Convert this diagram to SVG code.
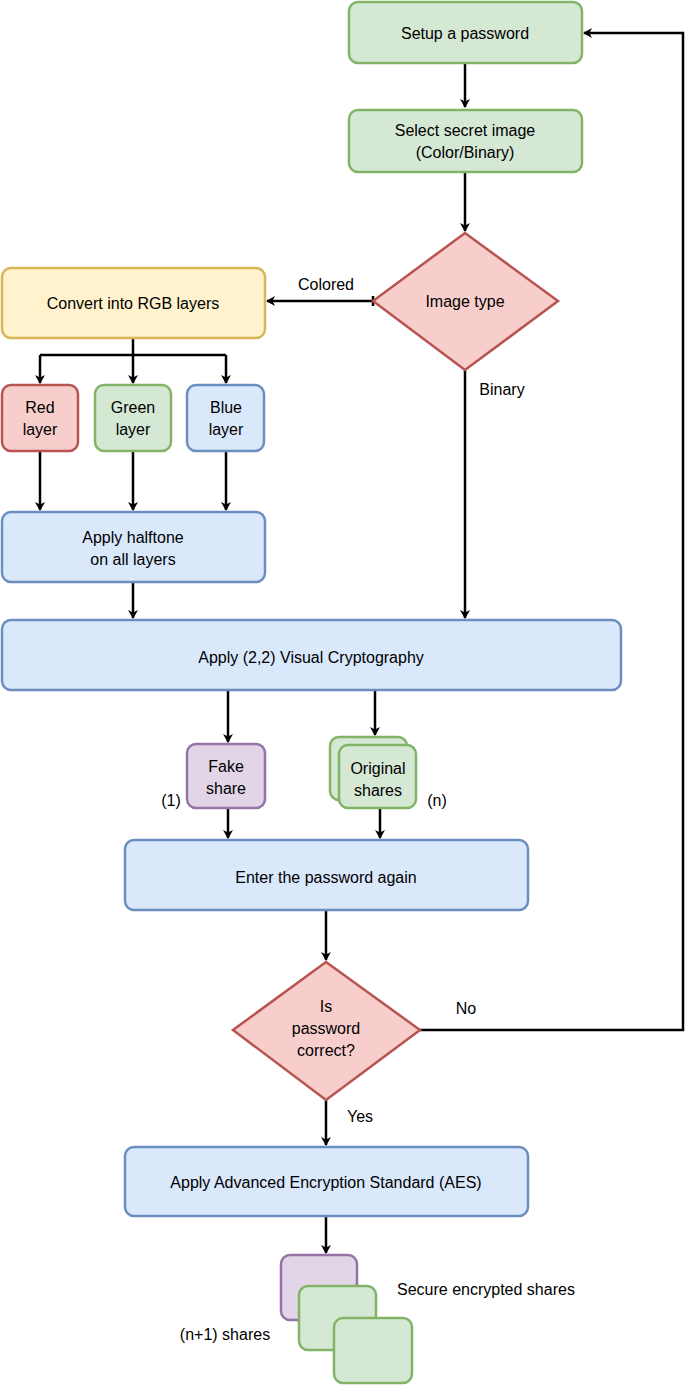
<svg xmlns="http://www.w3.org/2000/svg" width="685" height="1385" viewBox="0 0 685 1385">
<style>
text{font-family:"Liberation Sans",Arial,sans-serif;font-size:16px;fill:#000;text-anchor:middle;dominant-baseline:central}
.g{fill:#d5e8d4;stroke:#82b366;stroke-width:2.5}
.r{fill:#f8cecc;stroke:#b85450;stroke-width:2.5}
.b{fill:#dae8fc;stroke:#6c8ebf;stroke-width:2.5}
.y{fill:#fff2cc;stroke:#d6b656;stroke-width:2.5}
.p{fill:#e1d5e7;stroke:#9673a6;stroke-width:2.5}
.c{fill:none;stroke:#000;stroke-width:2.5;marker-end:url(#a)}
.l{fill:none;stroke:#000;stroke-width:2.5}
</style>
<defs><marker id="a" markerWidth="10" markerHeight="10" refX="8" refY="5" orient="auto" markerUnits="userSpaceOnUse"><path d="M0,0 L9,5 L0,10 L2.5,5 Z" fill="#000"/></marker></defs>
<g id="connectors">
<path class="c" d="M465,63 V107"/>
<path class="c" d="M465,172 V231"/>
<path class="c" d="M373,301 H267"/>
<path class="l" d="M373,296 V306"/>
<path class="l" d="M133,338 V355 M40,355 H226"/>
<path class="c" d="M40,355 V383"/><path class="c" d="M133,355 V383"/><path class="c" d="M226,355 V383"/>
<path class="c" d="M40,451 V510"/><path class="c" d="M133,451 V510"/><path class="c" d="M226,451 V510"/>
<path class="c" d="M133,582 V618"/>
<path class="c" d="M465,370 V618"/>
<path class="c" d="M228,690 V742"/>
<path class="c" d="M375,690 V735"/>
<path class="c" d="M228,808 V838"/>
<path class="c" d="M380,808 V838"/>
<path class="c" d="M326,910 V960"/>
<path class="c" d="M420,1030 H683 V33 H584"/>
<path class="c" d="M326,1100 V1145"/>
<path class="c" d="M326,1216 V1253"/>
<text x="326" y="284">Colored</text>
<text x="502" y="389">Binary</text>
<text x="466" y="1008">No</text>
<text x="360" y="1116">Yes</text>
<text x="171" y="800">(1)</text>
<text x="437" y="800">(n)</text>
</g>
<g id="setup"><rect class="g" x="349" y="2" width="233" height="61" rx="9"/><text x="465" y="33">Setup a password</text></g>
<g id="select"><rect class="g" x="349" y="110" width="233" height="62" rx="9"/><text x="465" y="130">Select secret image</text><text x="465" y="152">(Color/Binary)</text></g>
<g id="imagetype"><path class="r" d="M465,233 L558,301 L465,370 L373,301 Z"/><text x="465" y="301">Image type</text></g>
<g id="rgb"><rect class="y" x="2" y="268" width="263" height="70" rx="9"/><text x="133" y="303">Convert into RGB layers</text></g>
<g id="red"><rect class="r" x="2" y="385" width="76" height="66" rx="9"/><text x="40" y="407">Red</text><text x="40" y="429">layer</text></g>
<g id="green"><rect class="g" x="95" y="385" width="76" height="66" rx="9"/><text x="133" y="407">Green</text><text x="133" y="429">layer</text></g>
<g id="blue"><rect class="b" x="187" y="385" width="77" height="66" rx="9"/><text x="226" y="407">Blue</text><text x="226" y="429">layer</text></g>
<g id="halftone"><rect class="b" x="2" y="512" width="263" height="70" rx="9"/><text x="133" y="537">Apply halftone</text><text x="133" y="559">on all layers</text></g>
<g id="vc"><rect class="b" x="2" y="620" width="619" height="70" rx="9"/><text x="311" y="657">Apply (2,2) Visual Cryptography</text></g>
<g id="fake"><rect class="p" x="187" y="744" width="78" height="64" rx="9"/><text x="226" y="766">Fake</text><text x="226" y="788">share</text></g>
<g id="original"><rect class="g" x="330" y="737" width="77" height="63" rx="9"/><rect class="g" x="339" y="745" width="77" height="63" rx="9"/><text x="378" y="768">Original</text><text x="378" y="790">shares</text></g>
<g id="enter"><rect class="b" x="125" y="840" width="403" height="70" rx="9"/><text x="326" y="877">Enter the password again</text></g>
<g id="correct"><path class="r" d="M326,962 L420,1030 L326,1100 L233,1030 Z"/><text x="326" y="1006">Is</text><text x="326" y="1028">password</text><text x="326" y="1050">correct?</text></g>
<g id="aes"><rect class="b" x="125" y="1147" width="403" height="69" rx="9"/><text x="326" y="1182">Apply Advanced Encryption Standard (AES)</text></g>
<g id="shares"><rect class="p" x="281" y="1255" width="76" height="65" rx="9"/><rect class="g" x="299" y="1286" width="77" height="64" rx="9"/><rect class="g" x="334" y="1318" width="78" height="65" rx="9"/>
<text x="397" y="1289" style="text-anchor:start">Secure encrypted shares</text><text x="225" y="1334">(n+1) shares</text></g>
</svg>
